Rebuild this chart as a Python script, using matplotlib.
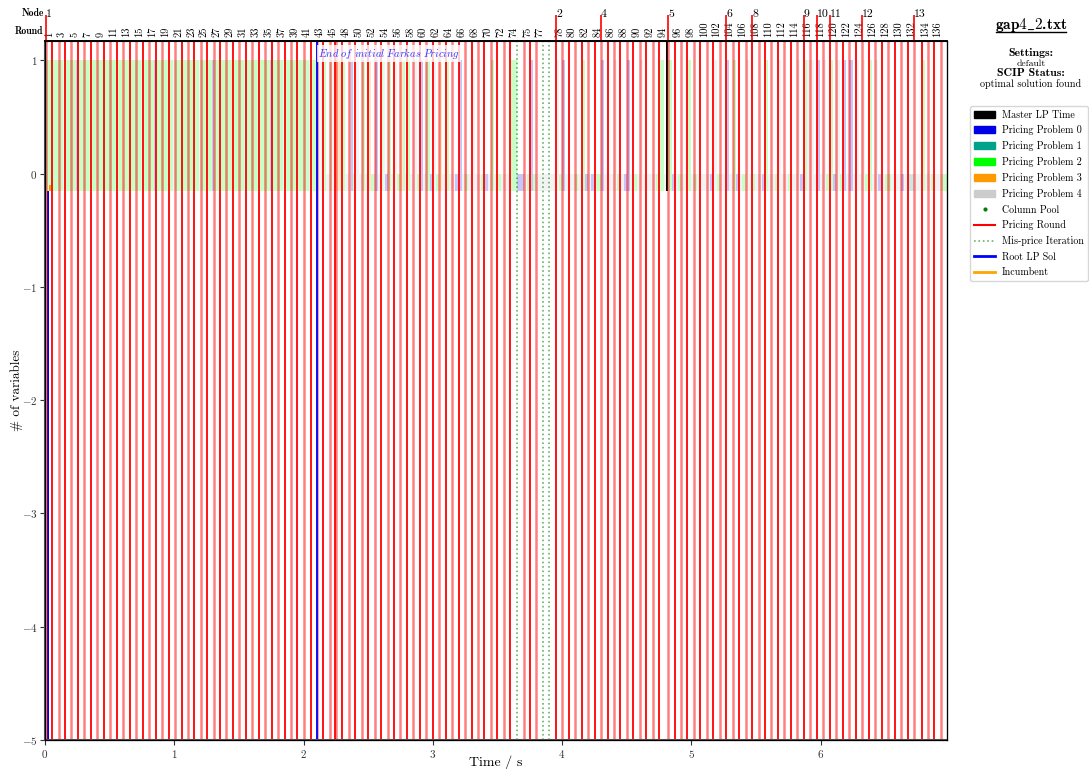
import matplotlib
matplotlib.use("Agg")
from matplotlib import pyplot as plt
from matplotlib.patches import Patch
from matplotlib.lines import Line2D
from matplotlib.transforms import ScaledTranslation

plt.rcParams["font.family"] = ["cmr10", "DejaVu Serif"]
plt.rcParams["mathtext.fontset"] = "cm"
plt.rcParams["axes.formatter.use_mathtext"] = True
plt.rcParams["axes.unicode_minus"] = True

# start time of every pricing round (s)
round_times = [
    0.009, 0.056, 0.105, 0.154, 0.203, 0.254, 0.304, 0.353, 0.404, 0.453,
    0.505, 0.554, 0.606, 0.654, 0.706, 0.755, 0.804, 0.855, 0.904, 0.956,
    1.005, 1.056, 1.105, 1.155, 1.203, 1.254, 1.304, 1.353, 1.404, 1.453,
    1.503, 1.553, 1.603, 1.653, 1.703, 1.753, 1.803, 1.853, 1.905, 1.951,
    2.002, 2.054, 2.101, 2.152, 2.203, 2.247, 2.253, 2.299, 2.350, 2.402,
    2.454, 2.500, 2.551, 2.600, 2.650, 2.700, 2.750, 2.800, 2.850, 2.900,
    2.950, 3.000, 3.050, 3.100, 3.150, 3.200, 3.250, 3.300, 3.350, 3.400,
    3.450, 3.500, 3.552, 3.601, 3.704, 3.750, 3.800, 3.954, 4.001, 4.052,
    4.101, 4.152, 4.202, 4.253, 4.302, 4.353, 4.403, 4.452, 4.503, 4.552,
    4.601, 4.653, 4.701, 4.753, 4.823, 4.872, 4.921, 4.970, 5.022, 5.070,
    5.121, 5.170, 5.220, 5.269, 5.320, 5.370, 5.420, 5.470, 5.520, 5.570,
    5.619, 5.670, 5.719, 5.770, 5.819, 5.869, 5.921, 5.973, 6.021, 6.070,
    6.122, 6.171, 6.223, 6.271, 6.321, 6.372, 6.421, 6.472, 6.521, 6.572,
    6.622, 6.673, 6.722, 6.781, 6.831, 6.880, 6.929,
]
end_time = 6.978

# branch-and-bound nodes and the round they start in
node_ids = [1, 2, 4, 5, 6, 8, 9, 10, 11, 12, 13]
node_rounds = [1, 78, 85, 95, 104, 108, 116, 118, 120, 125, 133]

misprice_times = [3.653, 3.854, 3.902]
farkas_end = 2.101
master_lp = (4.806, 0.012)  # start, duration

# pricing problems solved in each round (one char per time slice):
# found = returned a column, empty = returned nothing
round_found = [
    "2222", "2222", "2224", "2222", "2220", "2222", "2222", "2224", "2222", "2222",
    "2222", "2223", "2222", "2222", "2224", "2222", "2220", "2222", "2222", "2224",
    "2222", "2222", "2222", "2224", "2222", "2220", "2222", "2222", "2223", "2222",
    "2224", "2222", "2222", "2222", "2220", "2222", "2224", "2222", "2222", "2222",
    "2224", "2222",
    "4", "2", "24", "", "3", "2", "40", "4", "2", "3",
    "0", "24", "2", "4", "32", "2", "4", "0", "2", "4",
    "3", "2",
    "", "0", "", "4", "", "", "2", "", "", "2", "", "0", "",
    "4", "0", "", "", "2", "", "", "0", "", "4", "", "0", "", "4", "", "",
    "2", "2", "", "", "2", "", "",
    "", "4", "", "0", "2", "", "4", "", "", "2", "", "4", "", "", "4", "24",
    "4", "0", "4", "2", "4", "0", "0", "4", "4", "2", "4", "", "", "", "",
    "", "", "2", "", "", "",
]
round_empty = [""] * 42 + [
    "", "4", "4", "4", "", "4", "2", "4", "4", "2",
    "4", "0", "4", "2", "4", "4", "2", "4", "0", "2",
    "4", "4",
    "40", "4", "24", "4", "42", "04", "4", "24", "4", "0", "42", "2", "44",
    "2", "4", "44", "24", "0", "40", "2", "4", "44", "2", "40", "4", "24", "4",
    "4", "42", "4", "0", "42", "4", "4", "24", "4",
    "40", "2", "44", "4", "0", "42", "4", "24", "40", "4", "42", "4", "42", "4",
    "0", "", "4", "4", "2", "0", "2", "4", "4", "4", "2", "4", "0", "42", "24",
    "4", "04", "1", "4", "4", "42", "4", "2",
]

# very first pricing calls of the root
first_calls = [(0, 0.012, 0.018, -5.0), (3, 0.030, 0.018, -0.1)]

pp_colors = ["#0000e6", "#00a38a", "#00ff00", "#ff9900", "#cccccc"]
bar_bottom = -0.15

fig = plt.figure(figsize=(10.89, 7.69), dpi=100)
ax = fig.add_axes([45 / 1089, 1 - 740 / 769, 902 / 1089, 699 / 769])

# pricing problem bars
for i, t in enumerate(round_times):
    t_next = round_times[i + 1] if i + 1 < len(round_times) else end_time
    calls = [(p, 1.0) for p in round_found[i]] + [(p, 0.0) for p in round_empty[i]]
    if not calls:
        continue
    w = (t_next - t) / len(calls)
    for k, (p, nvars) in enumerate(calls):
        ax.bar(t + k * w, nvars - bar_bottom, width=w, bottom=bar_bottom,
               align="edge", color=pp_colors[int(p)], alpha=0.22, lw=0)

for p, t, w, h in first_calls:
    ax.bar(t, h - bar_bottom, width=w, bottom=bar_bottom, align="edge",
           color=pp_colors[p], lw=0)

ax.bar(master_lp[0], 10, width=master_lp[1], bottom=bar_bottom, align="edge",
       color="black", lw=0)

# pricing rounds
for i, t in enumerate(round_times):
    ax.axvline(t, color="red", lw=1.3 if i % 2 else 1.8,
               alpha=1.0 if i % 2 else 0.5)

for t in misprice_times:
    ax.axvline(t, color="green", lw=1.2, ls=":", alpha=0.6)

ax.axvline(farkas_end, color="blue", lw=1.3)
ax.text(farkas_end + 0.01, 1.06,
        r"$\mathit{End\ of\ initial\ Farkas\ Pricing}$",
        color="#3333ff", fontsize=7.6, va="center", ha="left",
        bbox=dict(facecolor="white", edgecolor="none", alpha=0.8, pad=1))

ax.set_xlim(0, end_time)
ax.set_ylim(-5, 1.17)
ax.set_yticks([-5, -4, -3, -2, -1, 0, 1])
ax.set_xticks([0, 1, 2, 3, 4, 5, 6])
ax.tick_params(labelsize=8, length=3.5, pad=2, colors="#333333")
ax.set_xlabel("Time / s", fontsize=10, va="center")
ax.set_ylabel("# of variables", fontsize=9.5, va="center")
ax.xaxis.set_label_coords(0.5, -0.0325)
ax.yaxis.set_label_coords(-0.031, 0.5)
for s in ["left", "bottom"]:
    ax.spines[s].set_color("#555555")
    ax.spines[s].set_linewidth(1.5)

# round numbers on top
ax_round = ax.twiny()
ax_round.set_xlim(ax.get_xlim())
shown, last = [], -1.0
for i, t in enumerate(round_times):
    if t - last >= 0.075:
        shown.append(i)
        last = t
ax_round.set_xticks([round_times[i] for i in shown])
ax_round.set_xticklabels([str(i + 1) for i in shown], rotation=90,
                         fontsize=7.5)
ax_round.tick_params(length=0, pad=3)
for lab in ax_round.get_xticklabels():
    lab.set_transform(lab.get_transform()
                      + ScaledTranslation(3.5 / 100, 0, fig.dpi_scale_trans))

# node numbers on top
ax_node = ax.twiny()
ax_node.set_xlim(ax.get_xlim())
ax_node.set_xticks([round_times[r - 1] for r in node_rounds])
ax_node.set_xticklabels([str(n) for n in node_ids], fontsize=8.5, ha="left")
ax_node.tick_params(length=19, width=1.2, color="red", pad=-3)
for a in (ax_round, ax_node):
    a.spines["top"].set_linewidth(1.2)

fig.text(44 / 1089, 1 - 13 / 769, "Node", fontsize=7, family="cmb10",
         ha="right", va="center")
fig.text(43 / 1089, 1 - 31 / 769, "Round", fontsize=7, family="cmb10",
         ha="right", va="center")

# info column
fig.text(1031 / 1089, 1 - 25 / 769, r"$\mathbf{gap4\_2}$.txt", fontsize=11,
         family="cmb10", ha="center", va="center")
fig.add_artist(Line2D([996 / 1089, 1066 / 1089], [1 - 32 / 769, 1 - 32 / 769],
                      color="black", lw=1))
fig.text(1031 / 1089, 1 - 53 / 769, "Settings:", fontsize=8.5, family="cmb10",
         ha="center", va="center")
fig.text(1031 / 1089, 1 - 64 / 769, "default", fontsize=7, ha="center",
         va="center")
fig.text(1031 / 1089, 1 - 73 / 769, "SCIP Status:", fontsize=8.5,
         family="cmb10", ha="center", va="center")
fig.text(1031 / 1089, 1 - 84 / 769, "optimal solution found", fontsize=7.3,
         ha="center", va="center")

handles = [Patch(color="black", label="Master LP Time")]
handles += [Patch(color=c, label=f"Pricing Problem {k}")
            for k, c in enumerate(pp_colors)]
handles += [
    Line2D([], [], ls="", marker=".", ms=4, color="green", label="Column Pool"),
    Line2D([], [], color="red", lw=1.5, label="Pricing Round"),
    Line2D([], [], color="green", lw=1.2, ls=":", alpha=0.6,
           label="Mis-price Iteration"),
    Line2D([], [], color="blue", lw=2, label="Root LP Sol"),
    Line2D([], [], color="orange", lw=2, label="Incumbent"),
]
fig.legend(handles=handles, loc="upper left",
           bbox_to_anchor=(970 / 1089, 1 - 106 / 769), fontsize=7.2,
           labelspacing=0.59, handlelength=2.1, handletextpad=0.7,
           borderaxespad=0, frameon=True, fancybox=True, edgecolor="#cccccc")

fig.savefig("out.png", dpi=100)
